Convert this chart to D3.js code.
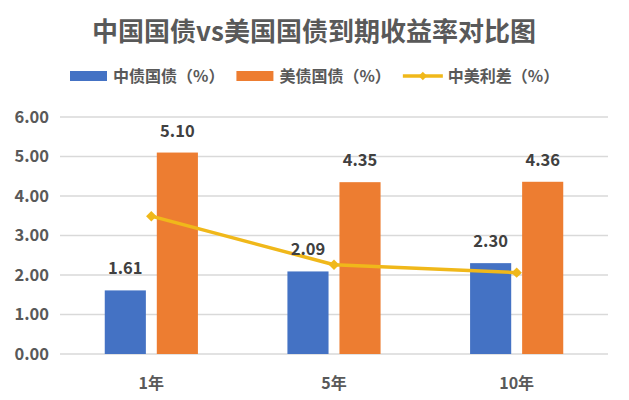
<!DOCTYPE html>
<html>
<head>
<meta charset="utf-8">
<script src="https://cdn.jsdelivr.net/npm/d3@7"></script>
<style>
	body { margin: 0; background: #fff; }
	text { font-family: "Noto Sans CJK SC", "Noto Sans", sans-serif; font-weight: bold; }
</style>
</head>
<body>
<svg id="chart" width="629" height="400"></svg>
<script>
var categories = ["1年", "5年", "10年"];
var seriesNames = ["中债国债（%）", "美债国债（%）", "中美利差（%）"];
var chinaYield = [1.61, 2.09, 2.30];
var usYield = [5.10, 4.35, 4.36];
var spread = [3.49, 2.26, 2.06];
var yTicks = [0, 1, 2, 3, 4, 5, 6];

var colors = {blue: "#4472C4", orange: "#ED7D31", gold: "#F0B81A", grid: "#D9D9D9", axis: "#595959", label: "#404040"};

var svg = d3.select("#chart");
var plotLeft = 60, plotRight = 608, plotTop = 117, plotBottom = 354;

var x0 = d3.scaleBand().domain(categories).range([plotLeft, plotRight]).paddingInner(0.49).paddingOuter(0.245);
var x1 = d3.scaleBand().domain(["cn", "us"]).range([0, x0.bandwidth()]).paddingInner(0.21);
var y = d3.scaleLinear().domain([0, 6]).range([plotBottom, plotTop]);

// title
svg.append("text")
	.attr("x", 314).attr("y", 41)
	.attr("text-anchor", "middle")
	.attr("textLength", 444).attr("lengthAdjust", "spacingAndGlyphs")
	.style("font-size", "26px")
	.style("fill", colors.axis)
	.text("中国国债vs美国国债到期收益率对比图");

// grid
svg.append("g").selectAll("line").data(yTicks).join("line")
	.attr("x1", plotLeft).attr("x2", plotRight)
	.attr("y1", function(d) {return y(d);}).attr("y2", function(d) {return y(d);})
	.style("stroke", colors.grid).style("stroke-width", 1.3);

// y labels
svg.append("g").selectAll("text").data(yTicks).join("text")
	.attr("x", 49).attr("y", function(d) {return y(d);})
	.attr("dy", "0.36em")
	.attr("text-anchor", "end")
	.style("font-size", "16.5px").style("fill", colors.axis)
	.text(function(d) {return d.toFixed(2);});

// x labels
svg.append("g").selectAll("text").data(categories).join("text")
	.attr("x", function(d) {return x0(d) + x0.bandwidth() / 2;})
	.attr("y", 389)
	.attr("text-anchor", "middle")
	.style("font-size", "16px").style("fill", colors.axis)
	.text(function(d) {return d;});

// bars
var barData = [];
categories.forEach(function(c, i) {
	barData.push({cat: c, key: "cn", v: chinaYield[i], color: colors.blue});
	barData.push({cat: c, key: "us", v: usYield[i], color: colors.orange});
});

svg.append("g").selectAll("rect").data(barData).join("rect")
	.attr("x", function(d) {return x0(d.cat) + x1(d.key);})
	.attr("y", function(d) {return y(d.v);})
	.attr("width", x1.bandwidth())
	.attr("height", function(d) {return y(0) - y(d.v);})
	.style("fill", function(d) {return d.color;});

// line
var line = d3.line()
	.x(function(d, i) {return x0(categories[i]) + x0.bandwidth() / 2;})
	.y(function(d) {return y(d);});

svg.append("path").datum(spread)
	.attr("d", line)
	.style("fill", "none").style("stroke", colors.gold).style("stroke-width", 3.5)
	.style("stroke-linejoin", "round");

var diamond = d3.symbol().type(d3.symbolDiamond2).size(70);
svg.append("g").selectAll("path").data(spread).join("path")
	.attr("d", diamond)
	.attr("transform", function(d, i) {return "translate(" + (x0(categories[i]) + x0.bandwidth() / 2) + "," + y(d) + ")";})
	.style("fill", colors.gold);

// bar labels
svg.append("g").selectAll("text").data(barData).join("text")
	.attr("x", function(d) {return x0(d.cat) + x1(d.key) + x1.bandwidth() / 2;})
	.attr("y", function(d) {return y(d.v) - 16;})
	.attr("text-anchor", "middle")
	.style("font-size", "16.5px").style("fill", colors.label)
	.text(function(d) {return d.v.toFixed(2);});

// legend
var legend = svg.append("g");
var lx = 70, ly = 76;
seriesNames.forEach(function(name, i) {
	var g = legend.append("g").attr("transform", "translate(" + lx + "," + ly + ")");
	if (i < 2) {
		g.append("rect").attr("x", 0).attr("y", -5).attr("width", 37).attr("height", 10)
			.style("fill", i == 0 ? colors.blue : colors.orange);
	} else {
		g.append("line").attr("x1", 0).attr("x2", 40).attr("y1", 0).attr("y2", 0)
			.style("stroke", colors.gold).style("stroke-width", 3.5);
		g.append("path").attr("d", d3.symbol().type(d3.symbolDiamond2).size(45))
			.attr("transform", "translate(20,0)").style("fill", colors.gold);
	}
	var sw = i < 2 ? 43 : 45;
	var t = g.append("text").attr("x", sw).attr("y", 0).attr("dy", "0.38em")
		.style("font-size", "16px").style("fill", colors.axis)
		.text(name);
	lx += sw + t.node().getComputedTextLength() + 12;
});
</script>
</body>
</html>
